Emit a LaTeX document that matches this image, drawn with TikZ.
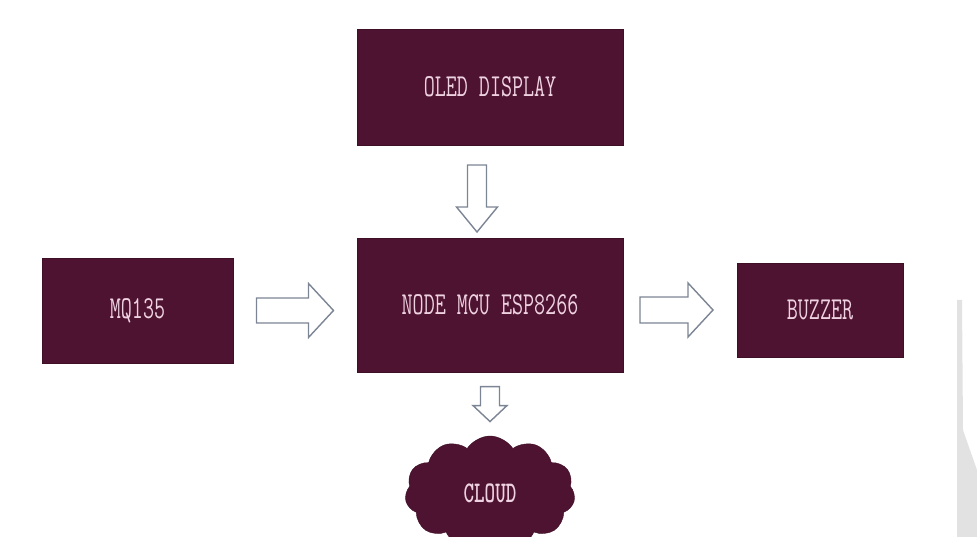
\documentclass[tikz,border=0pt]{standalone}
\usetikzlibrary{calc,shapes.symbols}
\definecolor{boxfill}{HTML}{4E1330}
\definecolor{boxtext}{HTML}{EFD2E2}
\definecolor{arrowline}{HTML}{7C8594}
\definecolor{edgegray}{HTML}{E2E2E2}
\tikzset{
  block/.style={rectangle, fill=boxfill, draw=boxfill!80!black, line width=0.6pt,
    text=boxtext, inner sep=0pt, font=\ttfamily\fontsize{32}{32}\selectfont},
  cloudbox/.style={cloud, cloud puffs=11, cloud puff arc=115, aspect=1.6,
    fill=boxfill, draw=boxfill!80!black, inner sep=0pt, text=boxtext,
    font=\ttfamily\bfseries\fontsize{30}{30}\selectfont},
  blockarrow/.style={fill=white, draw=arrowline, line width=1.4pt, line join=miter}
}
\newcommand\cond[1]{\scalebox{0.67}[1]{#1}}
% #1 center, #2 rotation, #3 half length, #4 shaft half width, #5 head half width, #6 head length
\newcommand\blkarrow[6]{%
  \draw[blockarrow, shift={(#1)}, rotate=#2]
    (-#3,-#4) -- (#3-#6,-#4) -- (#3-#6,-#5) -- (#3,0) -- (#3-#6,#5) -- (#3-#6,#4) -- (-#3,#4) -- cycle;}
\begin{document}
\begin{tikzpicture}[x=1pt,y=-1pt]
\useasboundingbox (0,0) rectangle (977,537);
\clip (0,0) rectangle (977,537);
% light gray edge at right
\fill[edgegray] (957,300) -- (962,300) -- (963,430) -- (977,470) -- (977,537) -- (957,537) -- cycle;
% blocks
\node[block, minimum width=266pt, minimum height=116pt] (oled) at (490,87) {\cond{OLED DISPLAY}};
\node[block, minimum width=266pt, minimum height=134pt] (mcu) at (490,305) {\cond{NODE MCU ESP8266}};
\node[block, minimum width=191pt, minimum height=105pt] (mq) at (137.5,310.5) {\cond{MQ135}};
\node[block, minimum width=166pt, minimum height=94pt] (bz) at (820,310) {\cond{BUZZER}};
\node[cloudbox, minimum width=170pt, minimum height=114pt] (cloud) at (490,493) {\cond{CLOUD}};
% block arrows
\blkarrow{$(mq.east)!0.5!(mcu.west |- mq.east)$}{0}{38.5}{12.5}{27}{25}
\blkarrow{$(mcu.east |- bz.west)!0.5!(bz.west)+(-3.5,0)$}{0}{36.5}{13}{27}{25}
\blkarrow{$(oled.south)!0.5!(mcu.north)+(-13,7)$}{-90}{33.5}{9.5}{20.5}{25}
\blkarrow{$(mcu.south)!0.5!(cloud.north)+(0,0)$}{-90}{17.5}{9.5}{17}{16}
\end{tikzpicture}
\end{document}
